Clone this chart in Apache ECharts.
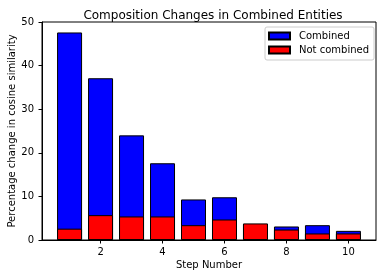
<!DOCTYPE html>
<html><head><meta charset="utf-8">
<script src="https://cdn.jsdelivr.net/npm/echarts@6/dist/echarts.min.js"></script>
<style>html,body{margin:0;padding:0;background:#fff}#c{width:386px;height:278px}</style>
</head><body><div id="c"></div>
<script>
const steps = [1, 2, 3, 4, 5, 6, 7, 8, 9, 10];
const combined = [47.6, 37.1, 24.0, 17.6, 9.3, 9.8, 3.6, 3.1, 3.4, 2.1];
const notCombined = [2.6, 5.7, 5.4, 5.4, 3.4, 4.7, 3.8, 2.4, 1.5, 1.5];
const xTicks = [2, 4, 6, 8, 10];

const font = 'DejaVu Sans';
const chart = echarts.init(document.getElementById('c'), null, {renderer: 'canvas'});
chart.setOption({
  animation: false,
  title: {
    text: 'Composition Changes in Combined Entities',
    left: 208, top: 5, textAlign: 'center',
    textStyle: {fontFamily: font, fontSize: 12, fontWeight: 'normal', color: '#000'}
  },
  legend: {
    orient: 'vertical', left: 265, top: 27,
    itemWidth: 21, itemHeight: 7, itemGap: 2, icon: 'rect',
    padding: [3, 5, 4, 3],
    borderColor: '#ccc', borderWidth: 1, borderRadius: 2,
    textStyle: {fontFamily: font, fontSize: 10, color: '#000', padding: [0, 0, 0, 4], lineHeight: 12},
    data: [{name: 'Combined', icon: 'rect'}, {name: 'Not combined', icon: 'rect'}]
  },
  grid: {left: 42, right: 10, top: 22, bottom: 38, containLabel: false, outerBoundsMode: 'none',
    show: true, borderColor: '#000', borderWidth: 1, backgroundColor: 'transparent'},
  xAxis: {
    type: 'value', min: 0.11, max: 10.89,
    name: 'Step Number', nameLocation: 'middle', nameGap: 20, nameMoveOverlap: false,
    nameTextStyle: {fontFamily: font, fontSize: 10, color: '#000'},
    axisLine: {show: true, onZero: false, lineStyle: {color: '#000'}},
    axisTick: {show: true, customValues: xTicks, length: 3.5, lineStyle: {color: '#000'}},
    axisLabel: {customValues: xTicks, fontFamily: font, fontSize: 10, color: '#000', margin: 7},
    splitLine: {show: false}
  },
  yAxis: {
    type: 'value', min: 0, max: 50, interval: 10,
    name: 'Percentage change in cosine similarity', nameLocation: 'middle', nameGap: 25, nameMoveOverlap: false,
    nameTextStyle: {fontFamily: font, fontSize: 10, color: '#000'},
    axisLine: {show: true, lineStyle: {color: '#000'}},
    axisTick: {show: true, length: 3.5, lineStyle: {color: '#000'}},
    axisLabel: {fontFamily: font, fontSize: 10, color: '#000', margin: 8},
    splitLine: {show: false}
  },
  series: [
    {
      name: 'Combined', type: 'bar', barWidth: 25, barGap: '-100%',
      itemStyle: {color: '#0000ff', borderColor: '#000', borderWidth: 1},
      data: steps.map((s, i) => [s, combined[i]])
    },
    {
      name: 'Not combined', type: 'bar', barWidth: 25, barGap: '-100%',
      itemStyle: {color: '#ff0000', borderColor: '#000', borderWidth: 1},
      data: steps.map((s, i) => [s, notCombined[i]])
    }
  ]
});
</script></body></html>
